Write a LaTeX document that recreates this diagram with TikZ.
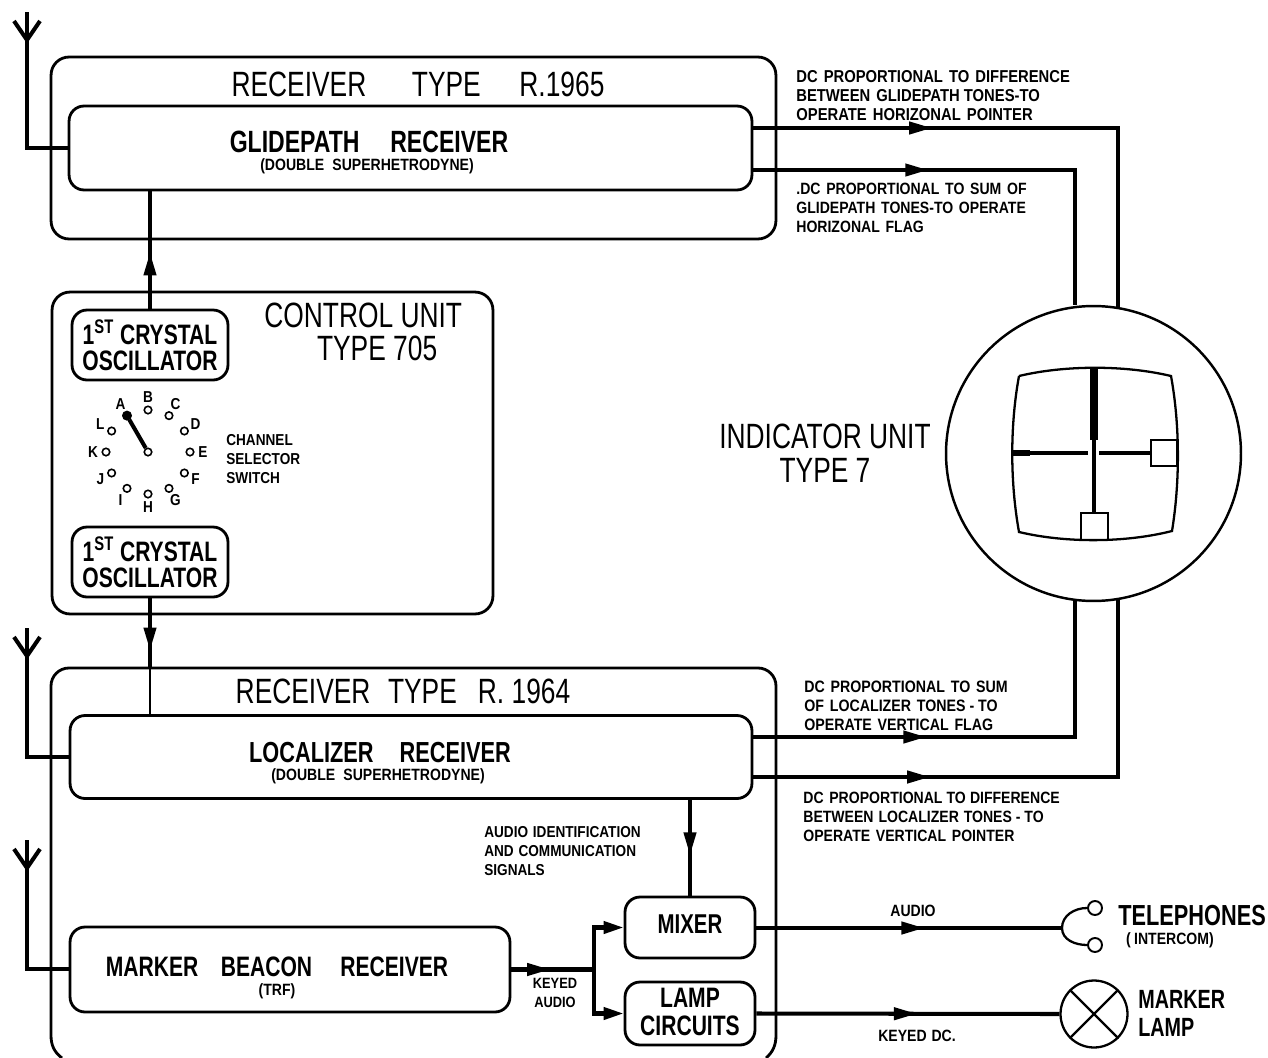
\documentclass[tikz,border=0pt]{standalone}
\usepackage{fontspec}
\setmainfont{Liberation Sans}[FakeStretch=0.75]
\newfontfamily\notefont{Liberation Sans}[FakeStretch=0.86]
\usetikzlibrary{arrows.meta,decorations.markings}
\tikzset{
    outerbox/.style={draw,line width=1.6pt,rounded corners=0.36cm},
    innerbox/.style={draw,line width=1.6pt,rounded corners=0.3cm,inner sep=0pt,fill=white},
    wire/.style={line width=2.3pt},
    thinwire/.style={line width=1.3pt},
    tipat/.style={postaction={decorate,decoration={markings,
        mark=at position #1 with {\arrow{Triangle[length=0.46cm,width=0.24cm]}}}}},
    titletxt/.style={font=\fontsize{20}{19}\selectfont,align=center,inner sep=0pt},
    headtxt/.style={font=\fontsize{17.5}{16}\selectfont\bfseries,align=center,inner sep=0pt},
    subtxt/.style={font=\notefont\fontsize{9.3}{11}\selectfont\bfseries,align=center,inner sep=0pt},
    notetxt/.style={font=\notefont\fontsize{9.8}{10.8}\selectfont\bfseries,align=left,anchor=west,inner sep=0pt},
    pin/.style={draw,circle,line width=0.9pt,minimum size=0.15cm,inner sep=0pt},
    pinlbl/.style={font=\notefont\fontsize{9}{9}\selectfont\bfseries,inner sep=0pt},
}
\begin{document}
\begin{tikzpicture}[x=0.02cm,y=-0.02cm]
    \useasboundingbox (0,0) rectangle (1268,1058);
    % receiver R.1965
    \node[outerbox,minimum width=14.5cm,minimum height=3.64cm] (rxtop) at (413.5,148) {};
    \node[innerbox,minimum width=13.66cm,minimum height=1.68cm] (glide) at (410.5,148) {};
    \node[titletxt] (rxtoptitle) at (418,84) {RECEIVER\hspace{1.3em}TYPE\hspace{1.1em}R.1965};
    \node[headtxt] (glidetxt) at (369,142) {GLIDEPATH\hspace{1em}RECEIVER};
    \node[subtxt] (glidesub) at (367,166) {(DOUBLE\hspace{.5em}SUPERHETRODYNE)};
    % control unit
    \node[outerbox,minimum width=8.82cm,minimum height=6.44cm] (ctrl) at (272.5,453) {};
    \node[innerbox,minimum width=3.12cm,minimum height=1.4cm] (osca) at (150,345) {};
    \node[innerbox,minimum width=3.12cm,minimum height=1.4cm] (oscb) at (150,562) {};
    \node[headtxt,font=\fontsize{16}{15}\selectfont\bfseries] (oscatxt) at (150,345) {1\textsuperscript{ST} CRYSTAL\\OSCILLATOR};
    \node[headtxt,font=\fontsize{16}{15}\selectfont\bfseries] (oscbtxt) at (150,562) {1\textsuperscript{ST} CRYSTAL\\OSCILLATOR};
    \node[titletxt,align=left,anchor=west] (ctrltxt) at (264,332) {CONTROL UNIT\\\hspace{1.5em}TYPE 705};
    % selector switch
    \coordinate (dial) at (148,452);
    \foreach \lbl/\ang in {A/-120,B/-90,C/-60,D/-30,E/0,F/30,G/60,H/90,I/120,J/150,K/180,L/-150} {
        \path (dial) ++(\ang:42) node[pin] (pin\lbl) {};
        \path (dial) ++(\ang:55) node[pinlbl] (lbl\lbl) {\lbl};
    }
    \node[pin] (pivot) at (dial) {};
    \fill (pinA) circle (0.1cm);
    \draw[wire] (pinA) -- (pivot);
    \node[notetxt,font=\notefont\fontsize{9}{10.8}\selectfont\bfseries] (chantxt) at (226,459) {CHANNEL\\SELECTOR\\SWITCH};
    % receiver R.1964, runs off the bottom of the sheet
    \draw[line width=1.6pt] (62,1058) .. controls (54,1052) and (51,1045) .. (51,1035)
        [rounded corners=0.36cm] -- (51,668) -- (776,668) [sharp corners] -- (776,1035)
        .. controls (776,1045) and (773,1052) .. (766,1058);
    \node[innerbox,minimum width=13.64cm,minimum height=1.66cm] (loca) at (411,757) {};
    \node[innerbox,minimum width=8.8cm,minimum height=1.7cm] (marker) at (290,969.5) {};
    \node[innerbox,minimum width=2.6cm,minimum height=1.22cm] (mixer) at (690,927.5) {};
    \node[innerbox,minimum width=2.6cm,minimum height=1.26cm] (lamp) at (690,1013.5) {};
    \node[titletxt] (rxlowtitle) at (403,691) {RECEIVER\hspace{.5em}TYPE\hspace{.6em}R. 1964};
    \node[headtxt,font=\fontsize{16.5}{16}\selectfont\bfseries] (locatxt) at (380,753) {LOCALIZER\hspace{.9em}RECEIVER};
    \node[subtxt] (locasub) at (378,776) {(DOUBLE\hspace{.5em}SUPERHETRODYNE)};
    \node[headtxt,font=\fontsize{16}{16}\selectfont\bfseries] (markertxt) at (277,967) {MARKER\hspace{.8em}BEACON\hspace{1em}RECEIVER};
    \node[subtxt] (markersub) at (277,991) {(TRF)};
    \node[headtxt,font=\fontsize{15.5}{16}\selectfont\bfseries] (mixertxt) at (690,924) {MIXER};
    \node[headtxt,font=\fontsize{16}{15.5}\selectfont\bfseries] (lamptxt) at (690,1012) {LAMP\\CIRCUITS};
    % indicator unit
    \node[draw,circle,line width=1.4pt,minimum size=5.9cm,inner sep=0pt] (dialcase) at (1093.5,453.5) {};
    \node[titletxt,font=\fontsize{20}{19.4}\selectfont] (indtxt) at (825,453) {INDICATOR UNIT\\TYPE 7};
    \draw[line width=1.3pt] (1019,376) .. controls (1065,365) and (1125,365) .. (1171,376)
        .. controls (1180,425) and (1180,482) .. (1172,531)
        .. controls (1125,543) and (1065,543) .. (1019,532)
        .. controls (1010,482) and (1010,425) .. (1019,376);
    \draw[line width=4pt] (1094,368) -- (1094,440);
    \draw[line width=2.4pt] (1094,440) -- (1094,513);
    \draw[line width=3.4pt] (1012,453) -- (1030,453);
    \draw[line width=2.4pt] (1030,453) -- (1088,453);
    \draw[line width=2.4pt] (1099,453) -- (1151,453);
    \draw[line width=1.3pt] (1151,440) rectangle (1177,466);
    \draw[line width=1.3pt] (1081,513) rectangle (1108,540);
    % connections to the indicator
    \coordinate (glideA) at (752,128);
    \coordinate (glideB) at (752,170);
    \coordinate (locaA) at (752,737);
    \coordinate (locaB) at (752,777);
    \coordinate (indA) at (1118,308);
    \coordinate (indB) at (1075,305);
    \coordinate (indC) at (1075,601);
    \coordinate (indD) at (1118,598);
    \draw[wire,tipat=0.33] (glideA) -| (indA);
    \draw[wire,tipat=0.385] (glideB) -| (indB);
    \draw[wire,tipat=0.38] (locaA) -| (indC);
    \draw[wire,tipat=0.327] (locaB) -| (indD);
    \node[notetxt] (noteA) at (796,96) {DC\hspace{.35em}PROPORTIONAL\hspace{.35em}TO\hspace{.35em}DIFFERENCE\\BETWEEN\hspace{.35em}GLIDEPATH TONES-TO\\OPERATE\hspace{.35em}HORIZONAL\hspace{.35em}POINTER};
    \node[notetxt,font=\notefont\fontsize{9.3}{10.8}\selectfont\bfseries] (noteB) at (796,208) {.DC\hspace{.35em}PROPORTIONAL\hspace{.35em}TO\hspace{.35em}SUM\hspace{.35em}OF\\GLIDEPATH\hspace{.35em}TONES-TO\hspace{.35em}OPERATE\\HORIZONAL\hspace{.35em}FLAG};
    \node[notetxt,font=\notefont\fontsize{9.4}{10.8}\selectfont\bfseries] (noteC) at (804,706) {DC\hspace{.35em}PROPORTIONAL\hspace{.35em}TO\hspace{.35em}SUM\\OF\hspace{.35em}LOCALIZER\hspace{.35em}TONES - TO\\OPERATE\hspace{.35em}VERTICAL\hspace{.35em}FLAG};
    \node[notetxt,font=\notefont\fontsize{9.3}{10.8}\selectfont\bfseries] (noteD) at (803,817) {DC\hspace{.35em}PROPORTIONAL\hspace{.25em}TO\hspace{.25em}DIFFERENCE\\BETWEEN\hspace{.3em}LOCALIZER\hspace{.3em}TONES - TO\\OPERATE\hspace{.35em}VERTICAL\hspace{.35em}POINTER};
    % crystal feeds
    \coordinate (entry) at (150,668);
    \draw[wire,tipat=0.48] (osca.north) -- (osca.north |- glide.south);
    \draw[wire,tipat=0.75] (oscb.south) -- (entry);
    \draw[thinwire] (entry) -- (entry |- loca.north);
    % audio chain
    \coordinate (split) at (594,969.5);
    \draw[wire,tipat=0.58] (loca.south -| mixer.north) -- (mixer.north);
    \draw[wire,tipat=0.47] (marker.east) -- (split);
    \draw[wire,-{Triangle[length=0.4cm,width=0.24cm]}] (split) |- (mixer.west);
    \draw[wire,-{Triangle[length=0.4cm,width=0.24cm]}] (split) |- (lamp.west);
    \node[subtxt,font=\notefont\fontsize{8.5}{10.5}\selectfont\bfseries] (keyedtxt) at (555,993) {KEYED\\AUDIO};
    \node[notetxt,font=\notefont\fontsize{9}{10.8}\selectfont\bfseries] (audiotxt) at (484,851) {AUDIO\hspace{.3em}IDENTIFICATION\\AND\hspace{.3em}COMMUNICATION\\SIGNALS};
    % outputs
    \node[pin,line width=1.1pt,minimum size=0.28cm] (phoneA) at (1095,908) {};
    \node[pin,line width=1.1pt,minimum size=0.28cm] (phoneB) at (1095,945) {};
    \coordinate (jack) at (1062,928);
    \draw[thinwire] (phoneA.west) to[out=180,in=90] (jack) to[out=-90,in=180] (phoneB.west);
    \draw[wire,tipat=0.55] (mixer.east |- jack) -- (jack);
    \node[draw,circle,line width=1.3pt,minimum size=1.34cm,inner sep=0pt] (bulb) at (1094,1014) {};
    \draw[thinwire] (bulb.north west) -- (bulb.south east);
    \draw[thinwire] (bulb.north east) -- (bulb.south west);
    \draw[wire,tipat=0.53] (lamp.east) -- (bulb.west);
    \node[subtxt] (audiolbl) at (913,911) {AUDIO};
    \node[subtxt] (keyeddc) at (917,1036) {KEYED\hspace{.3em}DC.};
    \node[headtxt,font=\fontsize{16.5}{16}\selectfont\bfseries,anchor=west] (phonetxt) at (1118,916) {TELEPHONES};
    \node[subtxt] (phonesub) at (1170,940) {(\hspace{.2em}INTERCOM)};
    \node[headtxt,font=\fontsize{15}{16}\selectfont\bfseries,anchor=west,align=left] (bulbtxt) at (1138,1013) {MARKER\\LAMP};
    % aerials
    \foreach \nm/\tipy/\feedy/\target in {top/12/148/glide,mid/628/757/loca,low/840/969/marker} {
        \coordinate (aer\nm) at (27,\tipy+28);
        \coordinate (feed\nm) at (27,\feedy);
        \draw[wire] (aer\nm) ++(-13,-19) -- (aer\nm) -- ++(13,-19);
        \draw[wire] (aer\nm) ++(0,-28) -- (feed\nm) -- (feed\nm -| \target.west);
    }
\end{tikzpicture}
\end{document}
